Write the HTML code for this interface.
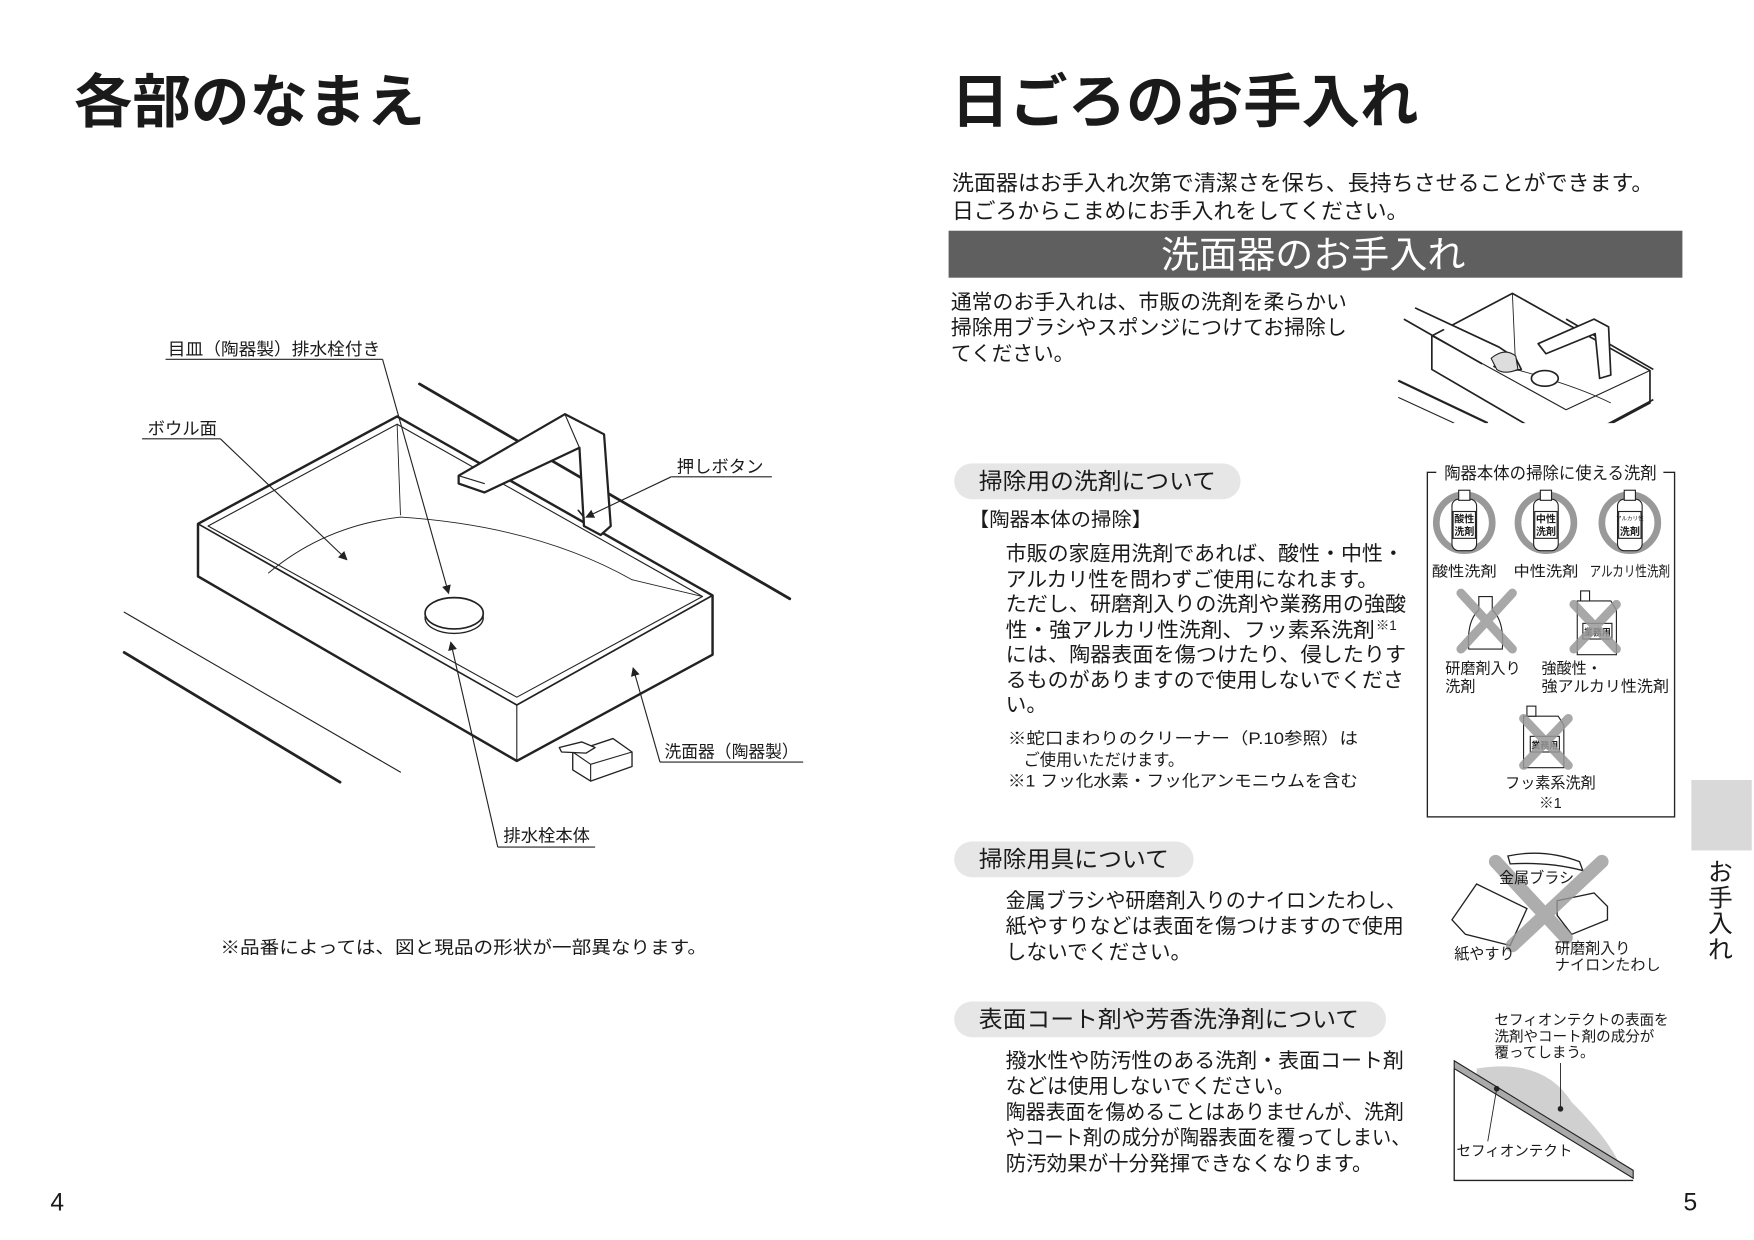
<!DOCTYPE html>
<html><head><meta charset="utf-8">
<style>
html,body{margin:0;padding:0;background:#fff;}
svg{display:block;}
text{font-family:"Liberation Sans","Noto Sans CJK JP",sans-serif;fill:#1a1a1a;}
.b{font-weight:bold;}
</style></head><body>
<svg width="1754" height="1240" viewBox="0 0 1568 1108" xmlns="http://www.w3.org/2000/svg">
<defs>
<marker id="ar" markerWidth="8" markerHeight="8" refX="7" refY="4" orient="auto" markerUnits="userSpaceOnUse">
<path d="M0,0 L8,4 L0,8 z" fill="#222"/></marker>
</defs>

<!-- Titles -->
<text x="66" y="109" font-size="52" class="b" textLength="314" lengthAdjust="spacingAndGlyphs">各部のなまえ</text>
<text x="850" y="109" font-size="52" class="b" textLength="418" lengthAdjust="spacingAndGlyphs">日ごろのお手入れ</text>

<!-- LEFT PAGE: sink -->
<g fill="none" stroke="#222" stroke-linecap="round" stroke-linejoin="round">
<line x1="375" y1="343" x2="706" y2="535" stroke-width="2.5"/>
<line x1="111" y1="547" x2="358" y2="690" stroke-width="1"/>
<line x1="111" y1="583" x2="304" y2="699" stroke-width="2.5"/>
<!-- outer sink -->
<path d="M177,468 L355,372 L637,532 L637,585 L462,680 L177,515 Z" fill="#fff" stroke-width="2.2"/>
<path d="M177,468 L462,630 L637,532" stroke-width="1.5"/>
<line x1="462" y1="630" x2="462" y2="680" stroke-width="1"/>
<!-- inner rim -->
<path d="M186,470 L355,379 L628,533 L462,623 Z" stroke-width="1"/>
<line x1="355" y1="379" x2="358" y2="460" stroke-width="0.8"/>
<path d="M240,512 Q290,470 358,462 Q480,470 565,518" stroke-width="0.8"/>
<path d="M565,518 L628,533" stroke-width="0.8"/>
<!-- faucet -->
<path d="M410,425 L505,370 L540,388 L546,470 L537,478 L522,470 L518,400 L433,440 L410,432 Z" fill="#fff" stroke-width="2"/>
<line x1="505" y1="370" x2="518" y2="400" stroke-width="1"/>
<line x1="410" y1="425" x2="433" y2="432" stroke-width="1"/>
<path d="M517,456 L522,462 L522,470" stroke-width="1.5"/>
<!-- drain -->
<ellipse cx="406" cy="552" rx="26" ry="14" fill="#fff" stroke-width="1.2"/>
<ellipse cx="406" cy="548" rx="26" ry="14" fill="#fff" stroke-width="1.5"/>
<!-- remote -->
<path d="M512,672 L548,660 L565,672 L565,685 L528,698 L512,688 Z" fill="#fff" stroke-width="1.2"/>
<path d="M512,672 L528,683 L565,672 M528,683 L528,698" stroke-width="1"/>
<path d="M500,668 L520,663 L532,668 L524,673 L502,672 Z" fill="#fff" stroke-width="1.2"/>
</g>
<!-- leaders -->
<g stroke="#222" stroke-width="1" fill="none">
<line x1="148" y1="321" x2="342" y2="321"/>
<line x1="342" y1="321" x2="401" y2="530" marker-end="url(#ar)"/>
<line x1="127" y1="392" x2="197" y2="392"/>
<line x1="197" y1="392" x2="310" y2="500" marker-end="url(#ar)"/>
<line x1="600" y1="426" x2="690" y2="426"/>
<line x1="600" y1="426" x2="524" y2="462" marker-end="url(#ar)"/>
<line x1="590" y1="681" x2="718" y2="681"/>
<line x1="590" y1="681" x2="566" y2="597" marker-end="url(#ar)"/>
<line x1="445" y1="757" x2="532" y2="757"/>
<line x1="445" y1="757" x2="403" y2="574" marker-end="url(#ar)"/>
</g>
<text x="150" y="317" font-size="15.5" textLength="190" lengthAdjust="spacingAndGlyphs">目皿（陶器製）排水栓付き</text>
<text x="132" y="388" font-size="15.5">ボウル面</text>
<text x="605" y="422" font-size="15.5">押しボタン</text>
<text x="594" y="677" font-size="15.5" textLength="120" lengthAdjust="spacingAndGlyphs">洗面器（陶器製）</text>
<text x="450" y="752" font-size="15.5">排水栓本体</text>
<text x="197" y="852" font-size="16" textLength="435" lengthAdjust="spacingAndGlyphs">※品番によっては、図と現品の形状が一部異なります。</text>
<text x="45" y="1082" font-size="22">4</text>

<!-- RIGHT PAGE -->
<text x="851" y="170" font-size="19.5" textLength="627" lengthAdjust="spacingAndGlyphs">洗面器はお手入れ次第で清潔さを保ち、長持ちさせることができます。</text>
<text x="851" y="195" font-size="19.5" textLength="408" lengthAdjust="spacingAndGlyphs">日ごろからこまめにお手入れをしてください。</text>
<rect x="848" y="206" width="656" height="42" fill="#5f5f5f"/>
<text x="1174" y="239" font-size="33" text-anchor="middle" style="fill:#fff" textLength="272" lengthAdjust="spacingAndGlyphs">洗面器のお手入れ</text>

<text x="850" y="276" font-size="18.5" textLength="354" lengthAdjust="spacingAndGlyphs">通常のお手入れは、市販の洗剤を柔らかい</text>
<text x="850" y="299" font-size="18.5" textLength="354" lengthAdjust="spacingAndGlyphs">掃除用ブラシやスポンジにつけてお掃除し</text>
<text x="850" y="322" font-size="18.5">てください。</text>

<!-- small sink illustration -->
<g fill="none" stroke="#222" stroke-width="1.5" stroke-linejoin="round">
<line x1="1400" y1="285" x2="1478" y2="330"/>
<path d="M1280,300 L1352,262 L1475,331 L1475,360 L1400,400 L1280,330 Z" fill="#fff"/>
<path d="M1280,300 L1400,366 L1475,331" stroke-width="1"/>
<path d="M1352,262 L1355,330" stroke-width="0.8"/>
<path d="M1355,330 Q1410,345 1440,360" stroke-width="0.8"/>
<path d="M1375,307 L1425,285 L1438,292 L1440,335 L1430,338 L1426,298 L1382,316 Z" fill="#fff"/>
<ellipse cx="1381" cy="338" rx="12" ry="7" fill="#fff"/>
<path d="M1255,285 L1325,325" />
<path d="M1265,275 L1340,310 L1355,320 L1360,330 L1345,332 L1335,327" fill="#fff"/>
<path d="M1333,320 Q1345,310 1355,318 L1357,330 Q1345,335 1338,330 Z" fill="#ddd" stroke-width="1"/>
<line x1="1250" y1="340" x2="1330" y2="378" stroke-width="2"/>
<line x1="1250" y1="355" x2="1300" y2="378" stroke-width="1"/>
<line x1="1435" y1="380" x2="1478" y2="357" stroke-width="1.5"/>
</g>
<rect x="1240" y="378" width="260" height="30" fill="#fff"/>

<!-- pill headings -->
<rect x="853" y="414" width="256" height="32" rx="16" fill="#e6e6e6"/>
<text x="875" y="437" font-size="20.5" textLength="212" lengthAdjust="spacingAndGlyphs">掃除用の洗剤について</text>
<text x="866" y="470" font-size="17.5" textLength="164" lengthAdjust="spacingAndGlyphs">【陶器本体の掃除】</text>
<g font-size="18.5">
<text x="899" y="501" textLength="356" lengthAdjust="spacingAndGlyphs">市販の家庭用洗剤であれば、酸性・中性・</text>
<text x="899" y="524" textLength="333" lengthAdjust="spacingAndGlyphs">アルカリ性を問わずご使用になれます。</text>
<text x="899" y="546" textLength="358" lengthAdjust="spacingAndGlyphs">ただし、研磨剤入りの洗剤や業務用の強酸</text>
<text x="899" y="569" textLength="330" lengthAdjust="spacingAndGlyphs">性・強アルカリ性洗剤、フッ素系洗剤</text>
<text x="1230" y="563" font-size="12">※1</text>
<text x="899" y="591" textLength="358" lengthAdjust="spacingAndGlyphs">には、陶器表面を傷つけたり、侵したりす</text>
<text x="899" y="614" textLength="356" lengthAdjust="spacingAndGlyphs">るものがありますので使用しないでくださ</text>
<text x="899" y="636">い。</text>
</g>
<g font-size="14.5">
<text x="901" y="665" textLength="313" lengthAdjust="spacingAndGlyphs">※蛇口まわりのクリーナー（P.10参照）は</text>
<text x="915" y="684">ご使用いただけます。</text>
<text x="901" y="703" textLength="313" lengthAdjust="spacingAndGlyphs">※1 フッ化水素・フッ化アンモニウムを含む</text>
</g>

<!-- detergent box -->
<rect x="1276" y="422" width="221" height="308" fill="none" stroke="#222" stroke-width="1.2"/>
<rect x="1284" y="412" width="203" height="20" fill="#fff"/>
<text x="1386" y="428" font-size="15" text-anchor="middle" textLength="190" lengthAdjust="spacingAndGlyphs">陶器本体の掃除に使える洗剤</text>
<g id="okicon">
<circle cx="1309" cy="467" r="25" fill="none" stroke="#999" stroke-width="6"/>
<rect x="1298" y="446" width="22" height="46" rx="6" fill="#fff" stroke="#222" stroke-width="1"/>
<rect x="1304" y="438" width="10" height="9" fill="#fff" stroke="#222" stroke-width="1"/>
</g>
<rect x="1299" y="457" width="20" height="24" fill="#fff" stroke="#222" stroke-width="1"/>
<text x="1309" y="467" font-size="9" class="b" text-anchor="middle">酸性</text>
<text x="1309" y="478" font-size="9" class="b" text-anchor="middle">洗剤</text>
<use href="#okicon" x="73"/>
<rect x="1372" y="457" width="20" height="24" fill="#fff" stroke="#222" stroke-width="1"/>
<text x="1382" y="467" font-size="9" class="b" text-anchor="middle">中性</text>
<text x="1382" y="478" font-size="9" class="b" text-anchor="middle">洗剤</text>
<use href="#okicon" x="148"/>
<rect x="1447" y="457" width="20" height="24" fill="#fff" stroke="#222" stroke-width="1"/>
<text x="1457" y="465" font-size="5" text-anchor="middle">アルカリ性</text>
<text x="1457" y="478" font-size="9" class="b" text-anchor="middle">洗剤</text>
<text x="1280" y="515" font-size="13" textLength="58" lengthAdjust="spacingAndGlyphs">酸性洗剤</text>
<text x="1353" y="515" font-size="13" textLength="58" lengthAdjust="spacingAndGlyphs">中性洗剤</text>
<text x="1421" y="515" font-size="13" textLength="72" lengthAdjust="spacingAndGlyphs">アルカリ性洗剤</text>

<!-- abrasive bottle X -->
<g stroke="#222" stroke-width="1" fill="#fff">
<path d="M1322,545 L1322,533 L1334,533 L1334,545 Q1345,555 1343,580 L1313,580 Q1311,555 1322,545 Z"/>
</g>
<g stroke="#999" stroke-width="8" stroke-linecap="round" opacity="0.85">
<line x1="1306" y1="530" x2="1352" y2="580"/><line x1="1352" y1="530" x2="1306" y2="580"/>
</g>
<!-- industrial X -->
<g stroke="#222" stroke-width="1" fill="#fff">
<path d="M1410,537 L1440,537 L1445,545 L1445,585 L1410,585 Z"/><rect x="1413" y="528" width="8" height="9"/>
<rect x="1415" y="557" width="26" height="14"/>
</g>
<text x="1428" y="568" font-size="8" class="b" text-anchor="middle">業務用</text>
<g stroke="#999" stroke-width="8" stroke-linecap="round" opacity="0.85">
<line x1="1407" y1="540" x2="1445" y2="580"/><line x1="1445" y1="540" x2="1407" y2="580"/>
</g>
<text x="1292" y="602" font-size="13.5">研磨剤入り</text>
<text x="1292" y="618" font-size="13.5">洗剤</text>
<text x="1378" y="602" font-size="13.5">強酸性・</text>
<text x="1378" y="618" font-size="13.5" textLength="114" lengthAdjust="spacingAndGlyphs">強アルカリ性洗剤</text>
<g stroke="#222" stroke-width="1" fill="#fff">
<path d="M1362,640 L1393,640 L1398,648 L1398,686 L1362,686 Z"/><rect x="1365" y="631" width="8" height="9"/>
<rect x="1368" y="658" width="26" height="14"/>
</g>
<text x="1381" y="669" font-size="8" class="b" text-anchor="middle">業務用</text>
<g stroke="#999" stroke-width="8" stroke-linecap="round" opacity="0.85">
<line x1="1362" y1="642" x2="1402" y2="684"/><line x1="1402" y1="642" x2="1362" y2="684"/>
</g>
<text x="1386" y="704" font-size="13.5" text-anchor="middle">フッ素系洗剤</text>
<text x="1386" y="722" font-size="13" text-anchor="middle">※1</text>

<!-- side tab -->
<rect x="1512" y="697" width="54" height="63" fill="#d9d9d9"/>
<g font-size="22" text-anchor="middle">
<text x="1538" y="787">お</text><text x="1538" y="810">手</text><text x="1538" y="833">入</text><text x="1538" y="856">れ</text>
</g>

<!-- section 2 -->
<rect x="853" y="752" width="214" height="32" rx="16" fill="#e6e6e6"/>
<text x="875" y="775" font-size="20.5" textLength="170" lengthAdjust="spacingAndGlyphs">掃除用具について</text>
<g font-size="18.5">
<text x="899" y="811" textLength="358" lengthAdjust="spacingAndGlyphs">金属ブラシや研磨剤入りのナイロンたわし、</text>
<text x="899" y="834" textLength="356" lengthAdjust="spacingAndGlyphs">紙やすりなどは表面を傷つけますので使用</text>
<text x="899" y="857">しないでください。</text>
</g>
<!-- tools illustration -->
<g stroke="#222" stroke-width="1.2" fill="#fff">
<path d="M1348,765 Q1380,758 1412,770 L1415,778 Q1385,770 1350,772 Z"/>
<path d="M1320,790 L1365,812 L1350,845 L1310,835 L1298,822 Z"/>
<path d="M1392,805 L1425,798 L1437,810 L1437,822 L1405,830 L1392,818 Z"/>
<path d="M1392,818 L1405,835 L1437,822"/>
</g>
<g stroke="#999" stroke-width="12" stroke-linecap="round" opacity="0.8">
<line x1="1337" y1="770" x2="1400" y2="838"/><line x1="1432" y1="770" x2="1352" y2="845"/>
</g>
<text x="1340" y="789" font-size="13.5">金属ブラシ</text>
<text x="1300" y="857" font-size="13.5">紙やすり</text>
<text x="1390" y="852" font-size="13.5">研磨剤入り</text>
<text x="1390" y="867" font-size="13.5">ナイロンたわし</text>

<!-- section 3 -->
<rect x="853" y="895" width="386" height="32" rx="16" fill="#e6e6e6"/>
<text x="875" y="918" font-size="20.5" textLength="340" lengthAdjust="spacingAndGlyphs">表面コート剤や芳香洗浄剤について</text>
<g font-size="18.5">
<text x="899" y="954" textLength="356" lengthAdjust="spacingAndGlyphs">撥水性や防汚性のある洗剤・表面コート剤</text>
<text x="899" y="977">などは使用しないでください。</text>
<text x="899" y="1000" textLength="356" lengthAdjust="spacingAndGlyphs">陶器表面を傷めることはありませんが、洗剤</text>
<text x="899" y="1023" textLength="362" lengthAdjust="spacingAndGlyphs">やコート剤の成分が陶器表面を覆ってしまい、</text>
<text x="899" y="1046" textLength="328" lengthAdjust="spacingAndGlyphs">防汚効果が十分発揮できなくなります。</text>
</g>
<!-- sefion diagram -->
<path d="M1320,955 Q1380,945 1405,985 Q1440,1020 1450,1045 L1320,960 Z" fill="#d0d0d0"/>
<path d="M1300,955 L1300,1055 L1460,1055" fill="none" stroke="#222" stroke-width="1.2"/>
<path d="M1300,948 L1460,1046 L1460,1053 L1300,955 Z" fill="#aaa" stroke="#222" stroke-width="1"/>
<circle cx="1338" cy="973" r="2.5" fill="#222"/>
<circle cx="1395" cy="991" r="2.5" fill="#222"/>
<line x1="1338" y1="973" x2="1330" y2="1020" stroke="#222" stroke-width="0.8"/>
<line x1="1395" y1="991" x2="1395" y2="950" stroke="#222" stroke-width="0.8"/>
<text x="1336" y="916" font-size="13">セフィオンテクトの表面を</text>
<text x="1336" y="931" font-size="13">洗剤やコート剤の成分が</text>
<text x="1336" y="945" font-size="13">覆ってしまう。</text>
<text x="1302" y="1033" font-size="13">セフィオンテクト</text>

<text x="1505" y="1082" font-size="22">5</text>
</svg>
</body></html>
